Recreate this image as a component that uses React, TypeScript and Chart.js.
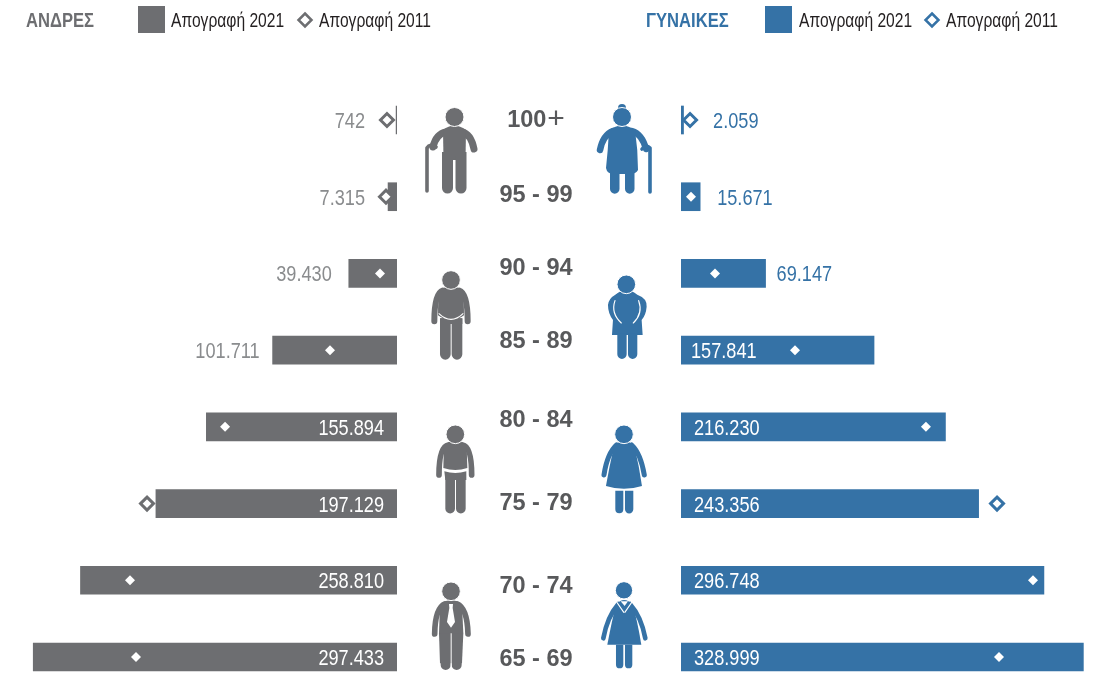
import React, { useEffect, useRef } from "react";
import { Chart, registerables } from "chart.js";

Chart.register(...registerables);

const ageGroups = ["100+", "95 - 99", "90 - 94", "85 - 89", "80 - 84", "75 - 79", "70 - 74", "65 - 69"];
const men2021 = [742, 7315, 39430, 101711, 155894, 197129, 258810, 297433];
const men2011 = [8200, 9000, 13900, 54800, 140600, 204400, 218300, 213400];
const women2021 = [2059, 15671, 69147, 157841, 216230, 243356, 296748, 328999];
const women2011 = [7400, 8200, 27800, 93200, 200300, 258400, 287800, 260000];
const menLabelGaps = [15, 14, 17, 13, 13, 13, 13, 13];
const womenLabelGaps = [16, 17, 11, 10, 13, 13, 13, 13];
const ageLabelCentres = [119, 194, 267, 340, 419, 502, 585, 658];

const GREY = "#6d6e71";
const BLUE = "#3572a6";
const TEXT = "#58595b";
const PX_PER_PERSON = 0.001223;
const FONT = '"Liberation Sans", sans-serif';
const fmt = (n: number) => String(n).replace(/\B(?=(\d{3})+(?!\d))/g, ".");

function buildChart(canvas: HTMLCanvasElement, v2021: number[], v2011: number[], color: string, labelColor: string, reverse: boolean, gaps: number[]) {
  const valueLabels = {
    id: "valueLabels",
    afterDatasetsDraw(chart: any) {
      const { ctx, scales } = chart;
      v2021.forEach((v, i) => {
        const y = scales.y.getPixelForValue(i) + 2;
        const inside = v >= 150000;
        const dir = reverse ? -1 : 1;
        const base = inside ? 0 : Math.max(v, v2011[i] + 7 / PX_PER_PERSON);
        const x = scales.x.getPixelForValue(base) + dir * gaps[i];
        ctx.save();
        ctx.font = `22px ${FONT}`;
        ctx.textBaseline = "middle";
        ctx.textAlign = reverse ? "right" : "left";
        ctx.fillStyle = inside ? "#ffffff" : labelColor;
        ctx.translate(x, y);
        ctx.scale(0.825, 1);
        ctx.fillText(fmt(v), 0, 0);
        ctx.restore();
      });
    },
  };
  return new Chart(canvas, {
    type: "bar",
    data: {
      labels: ageGroups,
      datasets: [
        {
          type: "line",
          label: "Απογραφή 2011",
          data: v2011,
          showLine: false,
          order: 0,
          clip: false,
          pointStyle: "rectRot",
          pointRadius: (c: any) => (v2011[c.dataIndex] < v2021[c.dataIndex] ? 5 : 6.5),
          pointBackgroundColor: "#ffffff",
          pointBorderColor: (c: any) => (v2011[c.dataIndex] < v2021[c.dataIndex] ? "#ffffff" : color),
          pointBorderWidth: (c: any) => (v2011[c.dataIndex] < v2021[c.dataIndex] ? 0 : 3),
        },
        {
          type: "bar",
          label: "Απογραφή 2021",
          data: v2021,
          backgroundColor: color,
          barThickness: 28,
          order: 1,
          clip: false,
        },
      ],
    } as any,
    options: {
      indexAxis: "y",
      animation: false,
      responsive: false,
      devicePixelRatio: 1,
      layout: { autoPadding: false, padding: { top: 120, bottom: 17, left: 0, right: 0 } },
      scales: {
        x: { type: "linear", display: false, min: 0, max: canvas.width / PX_PER_PERSON, reverse, grid: { display: false } },
        y: { type: "category", display: false, offset: false, grid: { display: false } },
      },
      plugins: { legend: { display: false }, tooltip: { enabled: false }, title: { display: false } },
    } as any,
    plugins: [valueLabels],
  });
}

const limb = (d: string, w: number, c: string) => <path d={d} fill="none" stroke={c} strokeWidth={w} strokeLinecap="round" strokeLinejoin="round" />;
const head = (cx: number, cy: number, r: number, sw: number) => <circle cx={cx} cy={cy} r={r} stroke="#fff" strokeWidth={sw} />;
const leg = (x: number, y: number, w: number, h: number) => `M${x},${y} h${w} v${h} a${w / 2},${w / 2} 0 0 1 ${-w},0 Z `;

function Figures() {
  return (
    <svg width={1100} height={674} style={{ position: "absolute", left: 0, top: 0 }}>
      {/* legend diamonds */}
      <polygon points="305,13.5 311.5,20 305,26.5 298.5,20" fill="#fff" stroke={GREY} strokeWidth={2.5} />
      <polygon points="932,13.5 938.5,20 932,26.5 925.5,20" fill="#fff" stroke={BLUE} strokeWidth={2.5} />

      {/* man with cane */}
      <g fill={GREY}>
        {limb("M446,132 Q436,134 433,147", 7, GREY)}
        {limb("M462,132 Q471,134 474,149", 7, GREY)}
        <path d="M443,130 Q454,121 466,130 L465.5,160 H443.5 Z" />
        <path d={leg(442, 152, 11, 36) + leg(455.5, 152, 11, 36)} />
        <path d="M443.5,152 H465.5 V156 H443.5 Z" />
        {head(454.5, 117, 9.5, 1)}
        {limb("M427,191 L427,148 Q430,143 436,147", 3.6, GREY)}
      </g>
      {/* woman with cane */}
      <g fill={BLUE}>
        {limb("M613,131 Q603,135 600,150", 6.5, BLUE)}
        {limb("M632,131 Q642,134 646,149", 6.5, BLUE)}
        <path d="M609,130 Q622,121 635,130 Q638,150 638,170 Q636,174 630,174 L614,174 Q607,174 606,168 Q608,150 609,130 Z" />
        <path d={leg(610, 172, 9.5, 17) + leg(625, 172, 9.5, 17)} />
        <circle cx={622} cy={108} r={4} />
        {head(622, 117, 9.5, 1)}
        {limb("M650,192 L650,148 Q646,144 642,149", 3.6, BLUE)}
      </g>

      {/* lower figures, drawn at 3x inside a scaled group */}
      <g transform="translate(400 250) scale(0.3333)">
        {/* stout man */}
        <g fill={GREY}>
          {limb("M128,122 Q103,130 103,214", 18, GREY)}
          {limb("M178,122 Q203,130 203,214", 18, GREY)}
          <path d="M118,122 Q153,96 188,122 Q192,150 192,196 Q153,226 114,196 Q114,150 118,122 Z" />
          <path d={leg(120, 205, 32, 108) + leg(155, 205, 32, 108)} />
          <path d="M120,205 H187 V222 H120 Z" />
          <path d="M116,190 Q153,226 190,190" fill="none" stroke="#fff" strokeWidth={3.5} />
          {head(153, 90, 28, 3)}
        </g>
        {/* stout woman */}
        <g fill={BLUE}>
          <path d="M646,134 Q679,106 712,134 Q742,145 740,170 Q738,195 725,210 L728,255 L636,255 L639,210 Q624,190 624,165 Q626,145 646,134 Z" />
          <path d={leg(652, 250, 28, 63) + leg(684, 250, 28, 63)} />
          <path d="M645,152 Q632,190 664,219 M716,152 Q730,190 700,219" fill="none" stroke="#fff" strokeWidth={3.5} strokeLinecap="round" />
          {head(679, 103, 28, 3)}
        </g>
        {/* man */}
        <g fill={GREY}>
          {limb("M145,585 Q117,590 117,675", 17, GREY)}
          {limb("M188,585 Q215,590 215,675", 17, GREY)}
          <path d="M132,586 Q166,558 200,586 L202,654 Q166,666 130,654 Z" />
          <path d={leg(136, 672, 29, 104) + leg(168, 672, 29, 104)} />
          <path d="M133,664 Q166,674 199,664 V690 H136 Z" />
          {head(166, 553, 28, 3)}
        </g>
        {/* dress woman */}
        <g fill={BLUE}>
          {limb("M650,585 Q622,610 612,675", 15, BLUE)}
          {limb("M695,585 Q722,610 733,675", 15, BLUE)}
          <path d="M642,588 Q672,558 703,588 Q718,650 726,708 Q672,725 618,708 Q628,650 642,588 Z" />
          <path d={leg(646, 722, 24, 56) + leg(675, 722, 25, 56)} />
          {head(672, 553, 28, 3)}
        </g>
        {/* man with tie */}
        <g fill={GREY}>
          {limb("M135,1062 Q105,1075 104,1152", 17, GREY)}
          {limb("M171,1062 Q202,1075 204,1152", 17, GREY)}
          <path d="M120,1064 Q153,1036 186,1064 L190,1150 L186,1240 H120 L117,1150 Z" />
          <path d={leg(122, 1150, 30, 95) + leg(155, 1150, 30, 95)} />
          <path d="M152,1150 h3 v100 h-3 Z" fill="#fff" />
          <path d="M147,1062 h12 l-1,12 l7,42 l-12,17 l-12,-17 l7,-42 Z" fill="#fff" />
          {head(153, 1024, 28, 3)}
        </g>
        {/* suit woman */}
        <g fill={BLUE}>
          {limb("M655,1062 Q622,1100 610,1165", 14, BLUE)}
          {limb("M690,1062 Q724,1100 736,1165", 14, BLUE)}
          <path d="M648,1064 Q672,1036 698,1064 Q712,1110 724,1184 L622,1184 Q636,1110 648,1064 Z" />
          <path d={leg(648, 1184, 22, 60) + leg(675, 1184, 22, 60)} />
          <path d="M662,1054 L684,1054 L674,1068 Z" fill="#fff" />
          <path d="M650,1056 L672,1088 M696,1056 L674,1088" fill="none" stroke="#fff" strokeWidth={3.5} />
          {head(672, 1021, 26, 3)}
        </g>
      </g>
    </svg>
  );
}

const narrow = (x: number, y: number, sx: number, extra: React.CSSProperties): React.CSSProperties => ({
  position: "absolute", left: x, top: y, transform: `translateY(-50%) scaleX(${sx})`, transformOrigin: "left center",
  whiteSpace: "nowrap", lineHeight: 1, fontFamily: FONT, ...extra,
});

function Legend() {
  const lg = { fontSize: 20, color: "#231f20" };
  const hd = { fontWeight: 700, fontSize: 20 };
  return (
    <>
      <div style={narrow(26, 20, 0.83, { ...hd, color: GREY })}>ΑΝΔΡΕΣ</div>
      <div style={{ position: "absolute", left: 138, top: 6, width: 27, height: 27, background: GREY }} />
      <div style={narrow(171, 20, 0.78, lg)}>Απογραφή 2021</div>
      <div style={narrow(319, 20, 0.78, lg)}>Απογραφή 2011</div>
      <div style={narrow(646, 20, 0.83, { ...hd, color: BLUE })}>ΓΥΝΑΙΚΕΣ</div>
      <div style={{ position: "absolute", left: 765, top: 6, width: 27, height: 27, background: BLUE }} />
      <div style={narrow(799, 20, 0.78, lg)}>Απογραφή 2021</div>
      <div style={narrow(946, 20, 0.78, lg)}>Απογραφή 2011</div>
    </>
  );
}

export default function App() {
  const leftRef = useRef<HTMLCanvasElement>(null);
  const rightRef = useRef<HTMLCanvasElement>(null);
  useEffect(() => {
    document.body.style.margin = "0";
    const a = buildChart(leftRef.current!, men2021, men2011, GREY, "#8a8c8e", true, menLabelGaps);
    const b = buildChart(rightRef.current!, women2021, women2011, BLUE, BLUE, false, womenLabelGaps);
    return () => { a.destroy(); b.destroy(); };
  }, []);
  return (
    <div style={{ position: "absolute", left: 0, top: 0, width: 1100, height: 674, overflow: "hidden", background: "#fff" }}>
      <canvas ref={leftRef} width={397} height={674} style={{ position: "absolute", left: 0, top: 0 }} />
      <canvas ref={rightRef} width={419} height={674} style={{ position: "absolute", left: 681, top: 0 }} />
      <Figures />
      <Legend />
      {ageGroups.map((g, i) => (
        <div key={g} style={{ position: "absolute", left: 436, width: 200, top: ageLabelCentres[i], transform: "translateY(-50%)", textAlign: "center", lineHeight: "24px", height: 24, fontFamily: FONT, fontWeight: 700, fontSize: 23.5, color: TEXT }}>
          {g.endsWith("+") ? <>{g.slice(0, -1)}<span style={{ fontWeight: 400, fontSize: 30, lineHeight: 0, marginLeft: 1, position: "relative", top: 1 }}>+</span></> : g}
        </div>
      ))}
    </div>
  );
}
